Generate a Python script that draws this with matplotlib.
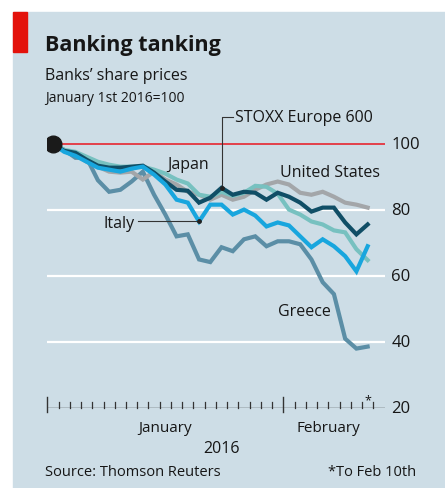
import matplotlib
matplotlib.use("Agg")
import matplotlib.pyplot as plt

# trading days Jan 1st 2016 -> Feb 10th 2016, index base Jan 1st = 100
days = list(range(29))
united_states = [100, 97.9, 96.7, 94.6, 93.1, 91.6, 91.3, 91.6, 89.2, 91.6,
                 89.2, 87.7, 85.5, 84.6, 83.1, 84.6, 83.1, 84.0, 86.1, 87.7,
                 88.6, 87.7, 85.2, 84.6, 85.5, 84.0, 82.2, 81.6, 80.7]
japan = [100, 98.2, 97.6, 96.1, 94.6, 93.7, 93.1, 93.1, 93.1, 92.2,
         91.0, 89.2, 88.0, 84.6, 84.0, 85.5, 84.3, 85.2, 87.3, 87.0,
         84.9, 80.1, 78.6, 76.5, 75.6, 73.8, 73.2, 68.1, 64.8]
stoxx = [100, 97.9, 97.3, 95.2, 93.4, 92.8, 92.8, 93.1, 93.4, 91.3,
         88.6, 86.1, 85.8, 82.2, 83.7, 86.7, 84.6, 85.5, 85.2, 83.1,
         85.2, 84.0, 82.2, 79.5, 80.7, 80.7, 76.2, 72.6, 75.6]
italy = [100, 97.6, 96.4, 94.6, 92.8, 92.2, 91.6, 92.5, 93.1, 90.7,
         87.7, 83.1, 82.2, 76.5, 81.6, 81.6, 78.6, 80.1, 78.3, 75.0,
         76.2, 75.3, 72.0, 68.7, 71.1, 69.0, 66.0, 61.4, 69.0]
greece = [100, 98.2, 95.8, 95.8, 89.0, 85.5, 86.1, 88.6, 91.6, 84.6,
          78.6, 72.0, 72.6, 65.0, 64.2, 68.7, 67.5, 71.1, 72.0, 69.0,
          70.5, 70.5, 69.6, 65.0, 58.1, 54.5, 41.0, 38.0, 38.6]
y_ticks = [20, 40, 60, 80, 100]
month_labels = ["January", "February"]
month_starts = [-0.5, 20.5]
month_centres = [10, 24.5]

BG = "#cddde6"
INK = "#161616"
FONT = "Open Sans"

W, H = 445, 489
fig = plt.figure(figsize=(W / 100, H / 100), dpi=100)
fig.patch.set_facecolor("white")


def fx(px):
    return px / W


def fy(py):
    return 1 - py / H


# background panel and red tag
fig.patches.append(plt.Rectangle((fx(13), 0), 1 - fx(13), fy(13), transform=fig.transFigure,
                                 color=BG, zorder=-10))
fig.patches.append(plt.Rectangle((fx(13), fy(53)), fx(14), fy(13) - fy(53), transform=fig.transFigure,
                                 color="#e3120b", zorder=-9))

left, right, top, bottom = 47.3, 384.5, 131.7, 409
ax = fig.add_axes([fx(left), fy(bottom), fx(right) - fx(left), fy(top) - fy(bottom)])
ax.set_facecolor("none")
ax.set_xlim(-0.5, 29.5)
ax.set_ylim(20, 104)
for s in ax.spines.values():
    s.set_visible(False)
ax.set_xticks([])
ax.set_yticks([])

for v in y_ticks[1:4]:
    ax.axhline(v, color="white", lw=1.6, zorder=1)
ax.axhline(100, color="#e3404a", lw=1.4, zorder=1)
ax.axhline(20, color="#333333", lw=1.0, zorder=1)

for i in range(30):
    x = i - 0.5
    if x in month_starts:
        ax.plot([x, x], [20 - 1.2, 20 + 3.2], color="#333333", lw=1.0, clip_on=False)
    else:
        ax.plot([x, x], [20, 21.7], color="#333333", lw=0.9, clip_on=False)

lw = 3.0
ax.plot(days, greece, color="#5b8ea6", lw=lw, solid_joinstyle="miter", zorder=2)
ax.plot(days, united_states, color="#a3a6a9", lw=lw, solid_joinstyle="miter", zorder=3)
ax.plot(days, japan, color="#77c1c0", lw=lw, solid_joinstyle="miter", zorder=4)
ax.plot(days, stoxx, color="#104e66", lw=lw, solid_joinstyle="miter", zorder=5)
ax.plot(days, italy, color="#18a6de", lw=lw, solid_joinstyle="miter", zorder=6)
ax.plot([0], [100], "o", color="#1a1a1a", ms=12, zorder=7)

for v in y_ticks:
    ax.text(29.5 + 0.6, v, str(v), ha="left", va="center", fontsize=12, color=INK, family=FONT)

# series labels with leader lines
ax.plot([15, 15, 16], [stoxx[15], 108, 108], color="#333333", lw=0.8, clip_on=False, zorder=8)
ax.plot([15], [stoxx[15]], "o", color="#222222", ms=2.5, zorder=8)
ax.text(16.2, 108, "STOXX Europe 600", ha="left", va="center", fontsize=11.5, color=INK, family=FONT)
ax.plot([7.6, 13], [italy[13], italy[13]], color="#333333", lw=0.8, zorder=8)
ax.plot([13], [italy[13]], "o", color="#222222", ms=2.5, zorder=8)
ax.text(7.3, italy[13] - 0.6, "Italy", ha="right", va="center", fontsize=11.5, color=INK, family=FONT)
ax.text(10.2, 93.8, "Japan", ha="left", va="center", fontsize=11.5, color=INK, family=FONT)
ax.text(20.2, 91.6, "United States", ha="left", va="center", fontsize=11.5, color=INK, family=FONT)
ax.text(20.0, 49.5, "Greece", ha="left", va="center", fontsize=11.5, color=INK, family=FONT)
ax.text(28, 20.6, "*", ha="center", va="bottom", fontsize=9, color=INK, family=FONT)

for lab, c in zip(month_labels, month_centres):
    ax.text(c, 14.2, lab, ha="center", va="center", fontsize=11, color=INK, family=FONT)
ax.text(15, 7.8, "2016", ha="center", va="center", fontsize=11.5, color=INK, family=FONT)

fig.text(fx(45), fy(46), "Banking tanking", ha="left", va="center", fontsize=15.5,
         fontweight="bold", color=INK, family=FONT)
fig.text(fx(45), fy(76), "Banks\u2019 share prices", ha="left", va="center", fontsize=11.5,
         color=INK, family=FONT)
fig.text(fx(45), fy(98), "January 1st 2016=100", ha="left", va="center", fontsize=10,
         color=INK, family=FONT)
fig.text(fx(45), fy(472), "Source: Thomson Reuters", ha="left", va="center", fontsize=10.5,
         color=INK, family=FONT)
fig.text(fx(416), fy(472), "*To Feb 10th", ha="right", va="center", fontsize=10.5,
         color=INK, family=FONT)

fig.savefig("out.png", dpi=100, facecolor=fig.get_facecolor())
